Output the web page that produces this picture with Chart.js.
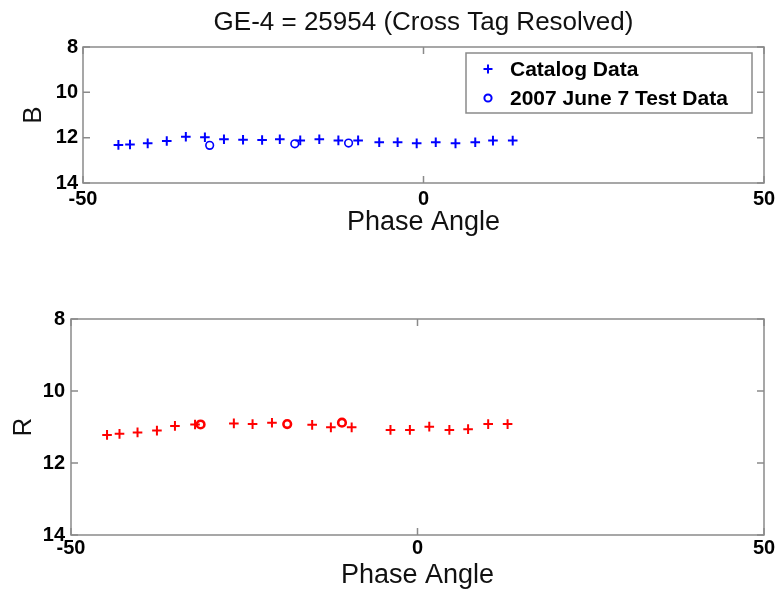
<!DOCTYPE html>
<html><head><meta charset="utf-8">
<script src="https://cdn.jsdelivr.net/npm/chart.js@4.4.1/dist/chart.umd.min.js"></script>
<style>
html,body{margin:0;padding:0;background:#fff;}
#wrap{position:relative;width:777px;height:590px;overflow:hidden;background:#fff;}
canvas{position:absolute;left:0;}
</style></head><body>
<div id="wrap">
<canvas id="cB" width="777" height="255" style="top:0px"></canvas>
<canvas id="cR" width="777" height="335" style="top:255px"></canvas>
</div>
<script>
const titleText = 'GE-4 = 25954 (Cross Tag Resolved)';
const xAxisTitle = 'Phase Angle';
const xTicks = [-50, 0, 50];
const yTicks = [8, 10, 12, 14];
const legendLabels = ['Catalog Data', '2007 June 7 Test Data'];

const bCatalogPhase = [-44.8,-43.1,-40.5,-37.7,-34.9,-32.1,-29.3,-26.5,-23.7,-21.1,-18.1,-15.3,-12.5,-9.6,-6.5,-3.8,-1.0,1.8,4.7,7.6,10.2,13.1];
const bCatalogMag   = [12.32,12.30,12.25,12.15,11.96,11.98,12.07,12.09,12.10,12.07,12.12,12.07,12.12,12.12,12.20,12.20,12.25,12.20,12.25,12.20,12.13,12.13];
const bTestPhase = [-31.4,-18.9,-11.0];
const bTestMag   = [12.34,12.27,12.24];

const rCatalogPhase = [-44.8,-43.0,-40.4,-37.6,-35.0,-32.1,-26.5,-23.8,-21.0,-15.2,-12.5,-9.5,-3.9,-1.1,1.7,4.6,7.3,10.2,13.0];
const rCatalogMag   = [11.22,11.19,11.15,11.10,10.97,10.93,10.90,10.92,10.88,10.94,11.01,11.01,11.08,11.08,10.99,11.08,11.06,10.92,10.92];
const rTestPhase = [-31.3,-18.8,-10.9];
const rTestMag   = [10.93,10.92,10.88];

const FONT = '"Liberation Sans", Arial, Helvetica, sans-serif';
Chart.defaults.font.family = FONT;
Chart.defaults.color = '#000';

const AXIS_GREY = '#8a8a8a';

function pts(xs, ys){ return xs.map((x,i)=>({x:x, y:ys[i]})); }

const boxPlugin = {
  id: 'matlabBox',
  beforeDatasetsDraw(chart){
    const {ctx, chartArea:a, scales} = chart;
    ctx.save();
    ctx.strokeStyle = AXIS_GREY;
    ctx.lineWidth = 1.5;
    ctx.strokeRect(a.left, a.top, a.right - a.left, a.bottom - a.top);
    const tl = 7;
    ctx.beginPath();
    yTicks.forEach(v=>{
      const y = scales.y.getPixelForValue(v);
      ctx.moveTo(a.left, y); ctx.lineTo(a.left + tl, y);
      ctx.moveTo(a.right, y); ctx.lineTo(a.right - tl, y);
    });
    xTicks.forEach(v=>{
      const x = scales.x.getPixelForValue(v);
      ctx.moveTo(x, a.bottom); ctx.lineTo(x, a.bottom - tl);
      ctx.moveTo(x, a.top); ctx.lineTo(x, a.top + tl);
    });
    ctx.stroke();
    ctx.restore();
  }
};

const legendPlugin = {
  id: 'matlabLegend',
  afterDraw(chart){
    if (!chart.options.plugins.matlabLegend || !chart.options.plugins.matlabLegend.show) return;
    const ctx = chart.ctx;
    const ds = chart.data.datasets;
    const bx = 466, by = 53, bw = 286, bh = 60;
    ctx.save();
    ctx.fillStyle = '#fff';
    ctx.fillRect(bx, by, bw, bh);
    ctx.strokeStyle = AXIS_GREY;
    ctx.lineWidth = 1.5;
    ctx.strokeRect(bx, by, bw, bh);
    const rows = [69, 98];
    ds.forEach((d, i)=>{
      const cy = rows[i], cx = 488;
      ctx.strokeStyle = d.borderColor;
      ctx.lineWidth = 2;
      ctx.beginPath();
      if (d.pointStyle === 'cross') {
        ctx.moveTo(cx - 4.5, cy); ctx.lineTo(cx + 4.5, cy);
        ctx.moveTo(cx, cy - 4.5); ctx.lineTo(cx, cy + 4.5);
      } else {
        ctx.arc(cx, cy, 3.6, 0, Math.PI * 2);
      }
      ctx.stroke();
      ctx.fillStyle = '#000';
      ctx.font = 'bold 21px ' + FONT;
      ctx.textAlign = 'left';
      ctx.textBaseline = 'middle';
      ctx.fillText(d.label, 510, cy + 1);
    });
    ctx.restore();
  }
};

function makeChart(id, cfg){
  const color = cfg.color;
  return new Chart(document.getElementById(id), {
    type: 'scatter',
    data: {
      datasets: [
        { label: legendLabels[0], data: pts(cfg.catX, cfg.catY), pointStyle: 'cross',
          pointRadius: 4.8, pointBorderWidth: 2, borderColor: color, backgroundColor: color, showLine: false },
        { label: legendLabels[1], data: pts(cfg.testX, cfg.testY), pointStyle: 'circle',
          pointRadius: 3.8, pointBorderWidth: cfg.circleWidth, borderColor: color, backgroundColor: 'rgba(0,0,0,0)', showLine: false }
      ]
    },
    options: {
      responsive: false,
      animation: false,
      events: [],
      devicePixelRatio: 1,
      layout: { padding: { left: 0, right: 13, top: cfg.padTop, bottom: 0 } },
      plugins: {
        legend: { display: false },
        tooltip: { enabled: false },
        matlabLegend: { show: cfg.showLegend },
        title: {
          display: !!cfg.title,
          text: cfg.title || '',
          fullSize: false,
          color: '#111',
          font: { size: 26, weight: 'normal', family: FONT, lineHeight: 1.2 },
          padding: { top: 7, bottom: 8.8 }
        }
      },
      scales: {
        x: {
          type: 'linear', min: -50, max: 50,
          afterBuildTicks: s => { s.ticks = xTicks.map(v => ({ value: v })); },
          afterFit: s => { s.height = cfg.xScaleH; },
          grid: { display: false, drawTicks: false },
          border: { display: false },
          ticks: { padding: 1, color: '#000', font: { size: 20, weight: 'bold', family: FONT, lineHeight: cfg.xTickLH }, maxRotation: 0, autoSkip: false },
          title: { display: true, text: xAxisTitle, color: '#111', font: { size: 27, family: FONT, lineHeight: 1 }, padding: { top: 0, bottom: cfg.xTitlePad } }
        },
        y: {
          type: 'linear', min: 8, max: 14, reverse: true,
          afterBuildTicks: s => { s.ticks = yTicks.map(v => ({ value: v })); },
          afterFit: s => { s.width = cfg.yScaleW; },
          grid: { display: false, drawTicks: false },
          border: { display: false },
          ticks: { padding: cfg.yTickPad, color: '#000', font: { size: 20, weight: 'bold', family: FONT }, autoSkip: false },
          title: { display: true, text: cfg.yLabel, color: '#111', font: { size: 26, family: FONT, lineHeight: 1 }, padding: { top: cfg.yTitlePad, bottom: 0 } }
        }
      }
    },
    plugins: [boxPlugin, legendPlugin]
  });
}

makeChart('cB', {
  color: '#0000ff', circleWidth: 1.6, showLegend: true, title: titleText,
  catX: bCatalogPhase, catY: bCatalogMag, testX: bTestPhase, testY: bTestMag,
  padTop: 0, xScaleH: 72, xTickLH: 1.5, xTitlePad: 18.5, yScaleW: 83, yTickPad: 5, yTitlePad: 21, yLabel: 'B'
});
makeChart('cR', {
  color: '#ff0000', circleWidth: 2.6, showLegend: false, title: null,
  catX: rCatalogPhase, catY: rCatalogMag, testX: rTestPhase, testY: rTestMag,
  padTop: 64, xScaleH: 55, xTickLH: 1.2, xTitlePad: 1, yScaleW: 71, yTickPad: 6, yTitlePad: 11, yLabel: 'R'
});
</script>
</body></html>
